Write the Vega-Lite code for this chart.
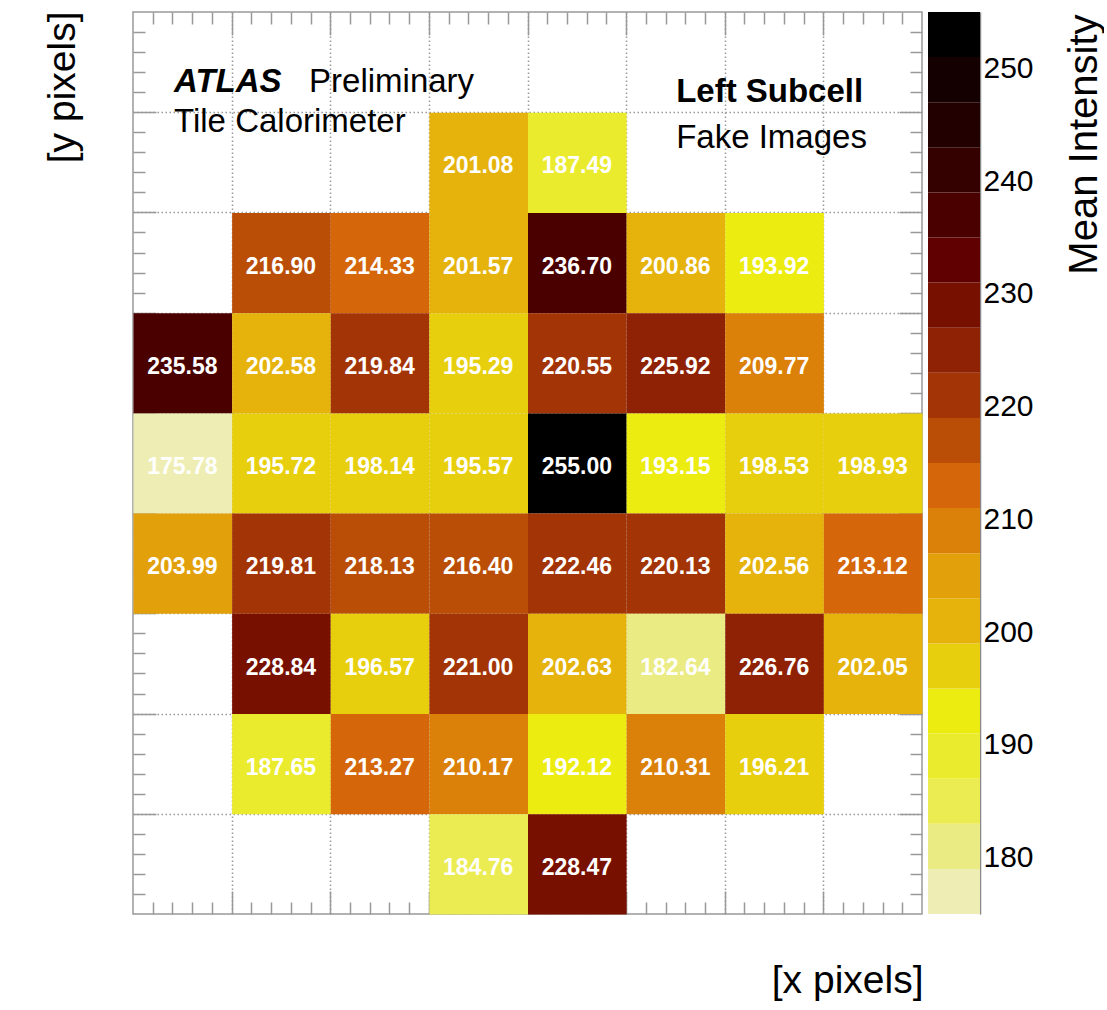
{
  "$schema": "https://vega.github.io/schema/vega-lite/v6.json",
  "padding": {"left": 42, "top": 10, "right": 0, "bottom": 0},
  "config": {
    "font": "Liberation Sans",
    "view": {"stroke": "#999999", "strokeWidth": 1.5},
    "axis": {"labels": false, "domain": false, "zindex": 1, "tickColor": "#999999", "tickWidth": 1.5, "titleFont": "Liberation Sans", "titleFontWeight": "normal", "titleColor": "#000000", "titleFontSize": 39, "grid": false}
  },
  "datasets": {
    "cells": [
      {"x": 3, "y": 7, "v": 201.08}, {"x": 4, "y": 7, "v": 187.49},
      {"x": 1, "y": 6, "v": 216.90}, {"x": 2, "y": 6, "v": 214.33}, {"x": 3, "y": 6, "v": 201.57}, {"x": 4, "y": 6, "v": 236.70}, {"x": 5, "y": 6, "v": 200.86}, {"x": 6, "y": 6, "v": 193.92},
      {"x": 0, "y": 5, "v": 235.58}, {"x": 1, "y": 5, "v": 202.58}, {"x": 2, "y": 5, "v": 219.84}, {"x": 3, "y": 5, "v": 195.29}, {"x": 4, "y": 5, "v": 220.55}, {"x": 5, "y": 5, "v": 225.92}, {"x": 6, "y": 5, "v": 209.77},
      {"x": 0, "y": 4, "v": 175.78}, {"x": 1, "y": 4, "v": 195.72}, {"x": 2, "y": 4, "v": 198.14}, {"x": 3, "y": 4, "v": 195.57}, {"x": 4, "y": 4, "v": 255.00}, {"x": 5, "y": 4, "v": 193.15}, {"x": 6, "y": 4, "v": 198.53}, {"x": 7, "y": 4, "v": 198.93},
      {"x": 0, "y": 3, "v": 203.99}, {"x": 1, "y": 3, "v": 219.81}, {"x": 2, "y": 3, "v": 218.13}, {"x": 3, "y": 3, "v": 216.40}, {"x": 4, "y": 3, "v": 222.46}, {"x": 5, "y": 3, "v": 220.13}, {"x": 6, "y": 3, "v": 202.56}, {"x": 7, "y": 3, "v": 213.12},
      {"x": 1, "y": 2, "v": 228.84}, {"x": 2, "y": 2, "v": 196.57}, {"x": 3, "y": 2, "v": 221.00}, {"x": 4, "y": 2, "v": 202.63}, {"x": 5, "y": 2, "v": 182.64}, {"x": 6, "y": 2, "v": 226.76}, {"x": 7, "y": 2, "v": 202.05},
      {"x": 1, "y": 1, "v": 187.65}, {"x": 2, "y": 1, "v": 213.27}, {"x": 3, "y": 1, "v": 210.17}, {"x": 4, "y": 1, "v": 192.12}, {"x": 5, "y": 1, "v": 210.31}, {"x": 6, "y": 1, "v": 196.21},
      {"x": 3, "y": 0, "v": 184.76}, {"x": 4, "y": 0, "v": 228.47}
    ],
    "bands": [
      {"lo": 175, "hi": 179}, {"lo": 179, "hi": 183}, {"lo": 183, "hi": 187}, {"lo": 187, "hi": 191}, {"lo": 191, "hi": 195},
      {"lo": 195, "hi": 199}, {"lo": 199, "hi": 203}, {"lo": 203, "hi": 207}, {"lo": 207, "hi": 211}, {"lo": 211, "hi": 215},
      {"lo": 215, "hi": 219}, {"lo": 219, "hi": 223}, {"lo": 223, "hi": 227}, {"lo": 227, "hi": 231}, {"lo": 231, "hi": 235},
      {"lo": 235, "hi": 239}, {"lo": 239, "hi": 243}, {"lo": 243, "hi": 247}, {"lo": 247, "hi": 251}, {"lo": 251, "hi": 255}
    ]
  },
  "spacing": 4,
  "hconcat": [
    {
      "width": 789,
      "height": 902,
      "layer": [
        {
          "data": {"name": "cells"},
          "mark": {"type": "rect"},
          "encoding": {
            "x": {"field": "x", "type": "quantitative", "bin": {"binned": true, "step": 1}, "scale": {"domain": [0, 8], "nice": false, "zero": false},
              "axis": {"orient": "bottom", "values": [0.2,0.4,0.6,0.8,1.2,1.4,1.6,1.8,2.2,2.4,2.6,2.8,3.2,3.4,3.6,3.8,4.2,4.4,4.6,4.8,5.2,5.4,5.6,5.8,6.2,6.4,6.6,6.8,7.2,7.4,7.6,7.8], "tickSize": -12, "title": "[x pixels]", "titleX": 790, "titleY": 78, "titleAlign": "right", "titleBaseline": "alphabetic", "titleAngle": 0}},
            "y": {"field": "y", "type": "quantitative", "bin": {"binned": true, "step": 1}, "scale": {"domain": [0, 9], "nice": false, "zero": false},
              "axis": {"orient": "left", "values": [0.2,0.4,0.6,0.8,1.2,1.4,1.6,1.8,2.2,2.4,2.6,2.8,3.2,3.4,3.6,3.8,4.2,4.4,4.6,4.8,5.2,5.4,5.6,5.8,6.2,6.4,6.6,6.8,7.2,7.4,7.6,7.8,8.2,8.4,8.6,8.8], "tickSize": -12, "title": "[y pixels]", "titleX": -90, "titleY": -1, "titleAngle": 270, "titleAlign": "right", "titleBaseline": "top"}},
            "color": {"field": "v", "type": "quantitative", "legend": null,
              "scale": {"type": "quantize", "domain": [175, 255], "nice": false, "zero": false,
                "range": ["#eeeeb4","#ebeb84","#ebeb52","#ebeb2e","#ecec10","#e8cf0e","#e5b30c","#e2a00a","#db8008","#d5660a","#bb4e07","#a33406","#8f2104","#781000","#600000","#4b0000","#340000","#220000","#140000","#000000"]}}
          }
        },
        {
          "data": {"name": "cells"},
          "mark": {"type": "text", "font": "Liberation Sans", "fontWeight": "bold", "fontSize": 23, "color": "#ffffff", "baseline": "middle", "align": "center", "dx": 49.3, "dy": -46},
          "encoding": {
            "x": {"field": "x", "type": "quantitative",
              "axis": {"orient": "bottom", "values": [1,2,3,4,5,6,7], "tickSize": -23, "grid": true, "gridColor": "#999999", "gridDash": [1.5, 2.5], "gridWidth": 1.5, "title": null}},
            "y": {"field": "y", "type": "quantitative",
              "axis": {"orient": "left", "values": [1,2,3,4,5,6,7,8], "tickSize": -23, "grid": true, "gridColor": "#999999", "gridDash": [1.5, 2.5], "gridWidth": 1.5, "title": null}},
            "text": {"field": "v", "type": "quantitative", "format": ".2f"}
          }
        },
        {
          "data": {"values": [{}]},
          "mark": {"type": "text", "text": "ATLAS", "font": "Liberation Sans", "fontWeight": "bold", "fontStyle": "italic", "fontSize": 33, "align": "left", "baseline": "alphabetic", "color": "#000000"},
          "encoding": {
            "x": {"datum": 0.416, "type": "quantitative", "axis": {"orient": "top", "values": [0.2,0.4,0.6,0.8,1.2,1.4,1.6,1.8,2.2,2.4,2.6,2.8,3.2,3.4,3.6,3.8,4.2,4.4,4.6,4.8,5.2,5.4,5.6,5.8,6.2,6.4,6.6,6.8,7.2,7.4,7.6,7.8], "tickSize": -12, "title": null}},
            "y": {"datum": 8.199, "type": "quantitative", "axis": {"orient": "right", "values": [0.2,0.4,0.6,0.8,1.2,1.4,1.6,1.8,2.2,2.4,2.6,2.8,3.2,3.4,3.6,3.8,4.2,4.4,4.6,4.8,5.2,5.4,5.6,5.8,6.2,6.4,6.6,6.8,7.2,7.4,7.6,7.8,8.2,8.4,8.6,8.8], "tickSize": -12, "title": null}}
          }
        },
        {
          "data": {"values": [{}]},
          "mark": {"type": "text", "text": "Preliminary", "font": "Liberation Sans", "fontSize": 33, "align": "left", "baseline": "alphabetic", "color": "#000000"},
          "encoding": {
            "x": {"datum": 1.785, "type": "quantitative", "axis": {"orient": "top", "values": [1,2,3,4,5,6,7], "tickSize": -23, "title": null}},
            "y": {"datum": 8.199, "type": "quantitative", "axis": {"orient": "right", "values": [1,2,3,4,5,6,7,8], "tickSize": -23, "title": null}}
          }
        },
        {
          "data": {"values": [{}]},
          "mark": {"type": "text", "text": "Tile Calorimeter", "font": "Liberation Sans", "fontSize": 33, "align": "left", "baseline": "alphabetic", "color": "#000000"},
          "encoding": {
            "x": {"datum": 0.416, "type": "quantitative", "axis": null},
            "y": {"datum": 7.8, "type": "quantitative", "axis": null}
          }
        },
        {
          "data": {"values": [{}]},
          "mark": {"type": "text", "text": "Left Subcell", "font": "Liberation Sans", "fontWeight": "bold", "fontSize": 33, "align": "left", "baseline": "alphabetic", "color": "#000000"},
          "encoding": {
            "x": {"datum": 5.507, "type": "quantitative", "axis": null},
            "y": {"datum": 8.099, "type": "quantitative", "axis": null}
          }
        },
        {
          "data": {"values": [{}]},
          "mark": {"type": "text", "text": "Fake Images", "font": "Liberation Sans", "fontSize": 33, "align": "left", "baseline": "alphabetic", "color": "#000000"},
          "encoding": {
            "x": {"datum": 5.507, "type": "quantitative", "axis": null},
            "y": {"datum": 7.64, "type": "quantitative", "axis": null}
          }
        }
      ],
      "resolve": {"axis": {"x": "independent", "y": "independent"}}
    },
    {
      "width": 52,
      "height": 902,
      "view": {"stroke": null},
      "data": {"name": "bands"},
      "mark": {"type": "rect"},
      "encoding": {
        "y": {"field": "lo", "type": "quantitative", "scale": {"domain": [175, 255], "nice": false, "zero": false},
          "axis": {"orient": "right", "values": [180,190,200,210,220,230,240,250], "labels": true, "labelFont": "Liberation Sans", "labelFontSize": 30, "labelColor": "#000000", "labelPadding": 31, "tickSize": -28, "tickColor": "#666666", "tickWidth": 1.5, "domain": true, "domainColor": "#888888", "domainWidth": 1.5,
            "title": "Mean Intensity", "titleFontSize": 40, "titleX": 84, "titleY": 2, "titleAngle": 270, "titleAlign": "right", "titleBaseline": "top"}},
        "y2": {"field": "hi"},
        "color": {"field": "lo", "type": "quantitative", "legend": null,
          "scale": {"type": "quantize", "domain": [175, 255], "nice": false, "zero": false,
            "range": ["#eeeeb4","#ebeb84","#ebeb52","#ebeb2e","#ecec10","#e8cf0e","#e5b30c","#e2a00a","#db8008","#d5660a","#bb4e07","#a33406","#8f2104","#781000","#600000","#4b0000","#340000","#220000","#140000","#000000"]}}
      }
    }
  ]
}
